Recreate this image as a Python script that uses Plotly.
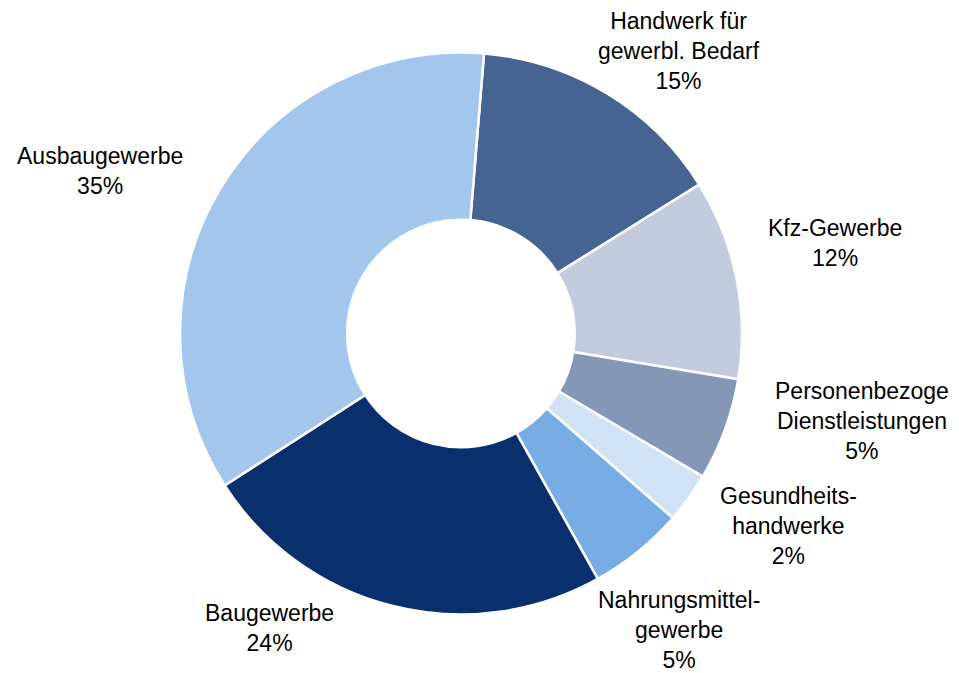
import math
import plotly.graph_objects as go

# Anteile (in %), im Uhrzeigersinn ab 12 Uhr
kategorien = [
    "Handwerk für<br>gewerbl. Bedarf",
    "Kfz-Gewerbe",
    "Personenbezoge<br>Dienstleistungen",
    "Gesundheits-<br>handwerke",
    "Nahrungsmittel-<br>gewerbe",
    "Baugewerbe",
    "Ausbaugewerbe",
]
anteile = [14.8, 11.5, 5.9, 2.9, 5.5, 24.0, 35.4]
anteil_text = ["15%", "12%", "5%", "2%", "5%", "24%", "35%"]
farben = ["#466491", "#C2CCDE", "#8497B7", "#D0E2F6", "#78ACE4", "#092F6D", "#A3C6EC"]

# Beschriftungsabstand (Faktor zum Radius) und Winkelversatz je Segment
label_r = [1.27, 1.37, 1.46, 1.35, 1.31, 1.25, 1.41]
label_dwinkel = [6.4, -2.3, -7.7, -5.4, 2.7, 18.9, -6.7]

W, H = 959, 673
start = 4.7
dom_x = [0.1877, 0.7737]
dom_y = [0.0869, 0.922]

fig = go.Figure(go.Pie(
    labels=kategorien,
    values=anteile,
    sort=False,
    direction="clockwise",
    rotation=start,
    hole=0.405,
    marker=dict(colors=farben, line=dict(color="white", width=2.5)),
    textinfo="none",
    hoverinfo="label+percent",
    domain=dict(x=dom_x, y=dom_y),
    showlegend=False,
))

# Beschriftungen aus den Segmentwinkeln ableiten
cx = (dom_x[0] + dom_x[1]) / 2 * W
cy = (1 - (dom_y[0] + dom_y[1]) / 2) * H
R = min((dom_x[1] - dom_x[0]) * W, (dom_y[1] - dom_y[0]) * H) / 2
summe = sum(anteile)
kum = 0
annots = []
for name, v, txt, rf, dw in zip(kategorien, anteile, anteil_text, label_r, label_dwinkel):
    mitte = start + (kum + v / 2) / summe * 360 + dw
    kum += v
    a = math.radians(mitte)
    px_ = cx + rf * R * math.sin(a)
    py_ = cy - rf * R * math.cos(a)
    annots.append(dict(
        x=px_ / W, y=1 - py_ / H, xref="paper", yref="paper",
        text=f"{name}<br>{txt}", showarrow=False, align="center",
        xanchor="center", yanchor="middle",
        font=dict(family="Liberation Sans, Arial", size=23, color="#000000"),
    ))

fig.update_layout(
    width=W, height=H,
    margin=dict(l=0, r=0, t=0, b=0),
    paper_bgcolor="white",
    plot_bgcolor="white",
    annotations=annots,
)

# Standardrand des Browsers entfernen, damit die Grafik bei (0, 0) beginnt
fig.write_html(
    "out.html",
    config={"displayModeBar": False},
    post_script="document.body.style.margin='0';",
)
